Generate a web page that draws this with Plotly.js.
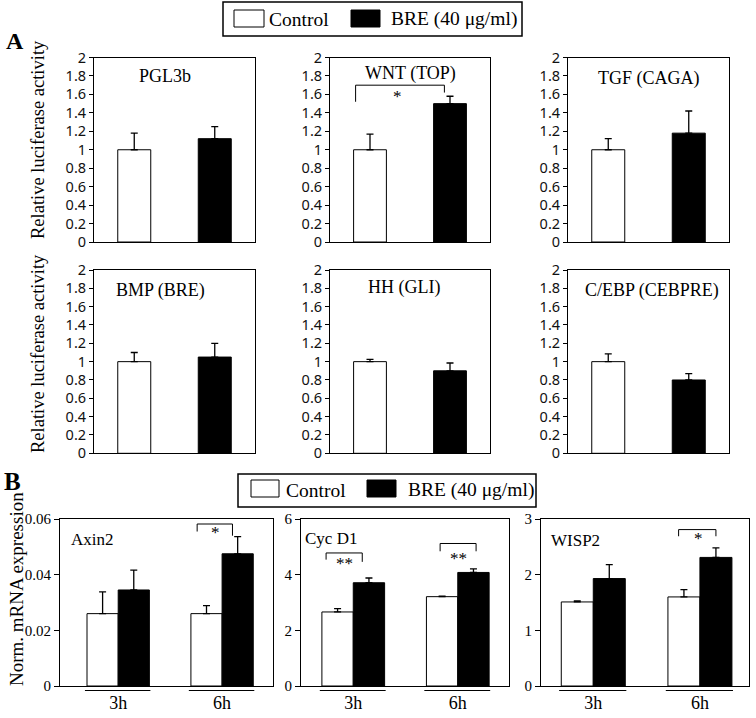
<!DOCTYPE html>
<html><head><meta charset="utf-8">
<script src="https://cdn.plot.ly/plotly-3.0.1.min.js"></script>
<style>body{margin:0;background:#fff}#chart{width:756px;height:718px}</style>
</head><body><div id="chart"></div>
<script>
// ---------- Panel A data ----------
const reporterNames = ['PGL3b', 'WNT (TOP)', 'TGF (CAGA)', 'BMP (BRE)', 'HH (GLI)', 'C/EBP (CEBPRE)'];
const groupsA = ['Control', 'BRE'];
const luciControl = [1.00, 1.00, 1.00, 1.00, 1.00, 1.00];
const luciControlErr = [0.18, 0.17, 0.12, 0.10, 0.025, 0.085];
const luciBre = [1.12, 1.50, 1.18, 1.05, 0.90, 0.80];
const luciBreErr = [0.13, 0.08, 0.24, 0.15, 0.085, 0.07];
const luciTicks = [0, 0.2, 0.4, 0.6, 0.8, 1, 1.2, 1.4, 1.6, 1.8, 2];

// ---------- Panel B data ----------
const geneNames = ['Axin2', 'Cyc D1', 'WISP2'];
const timePoints = ['3h', '6h'];
const axin2Control = [0.026, 0.026];
const axin2ControlErr = [0.0078, 0.0029];
const axin2Bre = [0.0345, 0.0475];
const axin2BreErr = [0.0071, 0.0062];
const cycD1Control = [2.66, 3.21];
const cycD1ControlErr = [0.12, 0.02];
const cycD1Bre = [3.71, 4.08];
const cycD1BreErr = [0.17, 0.13];
const wisp2Control = [1.51, 1.60];
const wisp2ControlErr = [0.02, 0.13];
const wisp2Bre = [1.93, 2.31];
const wisp2BreErr = [0.25, 0.17];
const axin2Ticks = [0, 0.02, 0.04, 0.06];
const cycD1Ticks = [0, 2, 4, 6];
const wisp2Ticks = [0, 1, 2, 3];

const W = 756, H = 718;
const px = v => v / W;
const py = v => 1 - v / H;
const SERIF = 'Liberation Serif, Times New Roman, serif';
const SANS = 'Noto Sans, DejaVu Sans, sans-serif';

const traces = [];
const layout = {
  width: W, height: H, autosize: false,
  margin: {l: 0, r: 0, t: 0, b: 0},
  paper_bgcolor: '#fff', plot_bgcolor: '#fff',
  showlegend: false,
  barmode: 'group', bargap: 0.4, bargroupgap: 0,
  font: {family: SERIF, color: '#000'},
  shapes: [], annotations: []
};

function errBar(arr) {
  return {type: 'data', symmetric: false, array: arr, arrayminus: arr.map(() => 0),
          color: '#000', thickness: 1.3, width: 3.5, visible: true};
}

// Panel A subplot geometry (pixels)
const aCols = [[94, 255], [330, 490], [568, 729]];
const aRows = [[57.5, 242], [270, 453.3]];
const aTitlePos = [[165, 76], [411, 73], [649, 78], [160, 290], [404, 288], [652, 290]];

for (let i = 0; i < 6; i++) {
  const n = i + 1;
  const xa = 'x' + (n === 1 ? '' : n), ya = 'y' + (n === 1 ? '' : n);
  const col = aCols[i % 3], row = aRows[Math.floor(i / 3)];
  traces.push({
    type: 'bar', x: groupsA, y: [luciControl[i], luciBre[i]],
    xaxis: xa, yaxis: ya, width: 0.41,
    marker: {color: ['#ffffff', '#000000'], line: {color: '#000', width: 1}},
    error_y: errBar([luciControlErr[i], luciBreErr[i]]),
    hoverinfo: 'skip'
  });
  layout['xaxis' + (n === 1 ? '' : n)] = {
    domain: [px(col[0]), px(col[1])], anchor: ya, type: 'category',
    range: [-0.5, 1.5], showticklabels: false, ticks: '',
    showline: true, mirror: true, linecolor: '#000', linewidth: 1,
    showgrid: false, zeroline: false, fixedrange: true
  };
  layout['yaxis' + (n === 1 ? '' : n)] = {
    domain: [py(row[1]), py(row[0])], anchor: xa,
    range: [0, 2], tickmode: 'array', tickvals: luciTicks,
    ticks: 'outside', ticklen: 4, tickwidth: 1, tickcolor: '#000',
    tickfont: {family: SANS, size: 14.5, color: '#111'},
    showline: true, mirror: true, linecolor: '#000', linewidth: 1,
    showgrid: false, zeroline: false, fixedrange: true
  };
  layout.annotations.push({
    xref: 'paper', yref: 'paper', x: px(aTitlePos[i][0]), y: py(aTitlePos[i][1]),
    text: reporterNames[i], showarrow: false, xanchor: 'center', yanchor: 'middle',
    font: {family: SERIF, size: 18, color: '#000'}
  });
}

// WNT significance bracket
layout.shapes.push({type: 'path', xref: 'x2', yref: 'y2',
  path: 'M -0.18,1.52 L -0.18,1.70 L 0.93,1.70 L 0.93,1.62',
  line: {color: '#000', width: 1}});
layout.annotations.push({xref: 'x2', yref: 'y2', x: 0.34, y: 1.58, text: '*', showarrow: false,
  font: {family: SERIF, size: 17, color: '#000'}, yanchor: 'middle'});

// Panel B
const bCols = [[60, 273], [301, 509], [541, 749]];
const bRow = [519, 686];
const bRanges = [[-0.56, 1.49], [-0.5, 1.49], [-0.49, 1.46]];
const bCtrl = [axin2Control, cycD1Control, wisp2Control];
const bCtrlErr = [axin2ControlErr, cycD1ControlErr, wisp2ControlErr];
const bBre = [axin2Bre, cycD1Bre, wisp2Bre];
const bBreErr = [axin2BreErr, cycD1BreErr, wisp2BreErr];
const bTicks = [axin2Ticks, cycD1Ticks, wisp2Ticks];
const bTitlePos = [[92, 539], [331, 538], [575, 540]];

for (let j = 0; j < 3; j++) {
  const n = 7 + j;
  const xa = 'x' + n, ya = 'y' + n;
  const col = bCols[j];
  traces.push({
    type: 'bar', name: 'Control', x: timePoints, y: bCtrl[j], xaxis: xa, yaxis: ya,
    marker: {color: '#ffffff', line: {color: '#000', width: 1}},
    error_y: errBar(bCtrlErr[j]), hoverinfo: 'skip'
  });
  traces.push({
    type: 'bar', name: 'BRE (40 μg/ml)', x: timePoints, y: bBre[j], xaxis: xa, yaxis: ya,
    marker: {color: '#000000', line: {color: '#000', width: 1}},
    error_y: errBar(bBreErr[j]), hoverinfo: 'skip'
  });
  const tv = bTicks[j];
  layout['xaxis' + n] = {
    domain: [px(col[0]), px(col[1])], anchor: ya, type: 'category',
    range: bRanges[j], ticks: '', ticklabelstandoff: 0,
    tickfont: {family: SERIF, size: 18, color: '#000'},
    showline: true, mirror: true, linecolor: '#000', linewidth: 1,
    showgrid: false, zeroline: false, fixedrange: true
  };
  layout['yaxis' + n] = {
    domain: [py(bRow[1]), py(bRow[0])], anchor: xa,
    range: [0, tv[tv.length - 1]], tickmode: 'array', tickvals: tv,
    ticks: 'outside', ticklen: 5, tickwidth: 1, tickcolor: '#000',
    tickfont: {family: SERIF, size: 15, color: '#000'},
    showline: true, mirror: true, linecolor: '#000', linewidth: 1,
    showgrid: false, zeroline: false, fixedrange: true
  };
  layout.annotations.push({
    xref: 'paper', yref: 'paper', x: px(bTitlePos[j][0]), y: py(bTitlePos[j][1]),
    text: geneNames[j], showarrow: false, xanchor: 'center', yanchor: 'middle',
    font: {family: SERIF, size: 17, color: '#000'}
  });
  // group underlines
  [0, 1].forEach(c => {
    layout.shapes.push({type: 'line', xref: xa, yref: 'paper',
      x0: c - 0.32, x1: c + 0.31, y0: py(690.5), y1: py(690.5),
      line: {color: '#000', width: 1}});
  });
}

// Panel B significance brackets: [axis, x0, x1, yTop, yb0, yb1, starX, starY, text]
const brackets = [
  ['7', 0.76, 1.10, 0.0582, 0.0555, 0.0540, 0.94, 0.0552, '*'],
  ['8', -0.26, 0.086, 4.78, 4.54, 4.46, -0.086, 4.40, '**'],
  ['8', 0.831, 1.175, 5.12, 4.84, 4.84, 1.01, 4.58, '**'],
  ['9', 0.80, 1.15, 2.81, 2.69, 2.69, 0.99, 2.65, '*']
];
brackets.forEach(b => {
  layout.shapes.push({type: 'path', xref: 'x' + b[0], yref: 'y' + b[0],
    path: `M ${b[1]},${b[4]} L ${b[1]},${b[3]} L ${b[2]},${b[3]} L ${b[2]},${b[5]}`,
    line: {color: '#000', width: 1}});
  layout.annotations.push({xref: 'x' + b[0], yref: 'y' + b[0], x: b[6], y: b[7], text: b[8],
    showarrow: false, yanchor: 'middle', font: {family: SERIF, size: 17, color: '#000'}});
});

// Y-axis titles
[[38, 140], [38, 354]].forEach(p => {
  layout.annotations.push({xref: 'paper', yref: 'paper', x: px(p[0]), y: py(p[1]),
    text: 'Relative luciferase activity', textangle: -90, showarrow: false,
    xanchor: 'center', yanchor: 'middle', font: {family: SERIF, size: 18.5, color: '#000'}});
});
layout.annotations.push({xref: 'paper', yref: 'paper', x: px(16), y: py(589),
  text: 'Norm. mRNA expression', textangle: -90, showarrow: false,
  xanchor: 'center', yanchor: 'middle', font: {family: SERIF, size: 19, color: '#000'}});

// Panel letters
layout.annotations.push({xref: 'paper', yref: 'paper', x: px(4), y: py(41), text: '<b>A</b>',
  showarrow: false, xanchor: 'left', yanchor: 'middle', font: {family: SERIF, size: 24, color: '#000'}});
layout.annotations.push({xref: 'paper', yref: 'paper', x: px(2), y: py(481), text: '<b>B</b>',
  showarrow: false, xanchor: 'left', yanchor: 'middle', font: {family: SERIF, size: 25, color: '#000'}});

// Legends (drawn as boxes)
function legendBox(b) {
  layout.shapes.push({type: 'rect', xref: 'paper', yref: 'paper',
    x0: px(b.box[0]), x1: px(b.box[1]), y0: py(b.box[3]), y1: py(b.box[2]),
    line: {color: '#000', width: 1.5}, fillcolor: '#fff', layer: 'below'});
  layout.shapes.push({type: 'rect', xref: 'paper', yref: 'paper',
    x0: px(b.sw1[0]), x1: px(b.sw1[1]), y0: py(b.sw[1]), y1: py(b.sw[0]),
    line: {color: '#000', width: 1}, fillcolor: '#fff'});
  layout.shapes.push({type: 'rect', xref: 'paper', yref: 'paper',
    x0: px(b.sw2[0]), x1: px(b.sw2[1]), y0: py(b.sw[1]), y1: py(b.sw[0]),
    line: {color: '#000', width: 1}, fillcolor: '#000'});
  layout.annotations.push({xref: 'paper', yref: 'paper', x: px(b.t1), y: py(b.ty), text: 'Control',
    showarrow: false, xanchor: 'left', yanchor: 'middle', font: {family: SERIF, size: 19.5, color: '#000'}});
  layout.annotations.push({xref: 'paper', yref: 'paper', x: px(b.t2), y: py(b.ty), text: 'BRE (40 μg/ml)',
    showarrow: false, xanchor: 'left', yanchor: 'middle', font: {family: SERIF, size: 19.5, color: '#000'}});
}
legendBox({box: [223, 522, 2, 36], sw: [10, 27], sw1: [234, 264], sw2: [351, 380], t1: 267, t2: 389, ty: 19});
legendBox({box: [238, 536, 474, 507], sw: [480, 497], sw1: [251, 279], sw2: [367, 396], t1: 284, t2: 406, ty: 490});

Plotly.newPlot('chart', traces, layout, {staticPlot: true, displayModeBar: false});
</script>
</body></html>
